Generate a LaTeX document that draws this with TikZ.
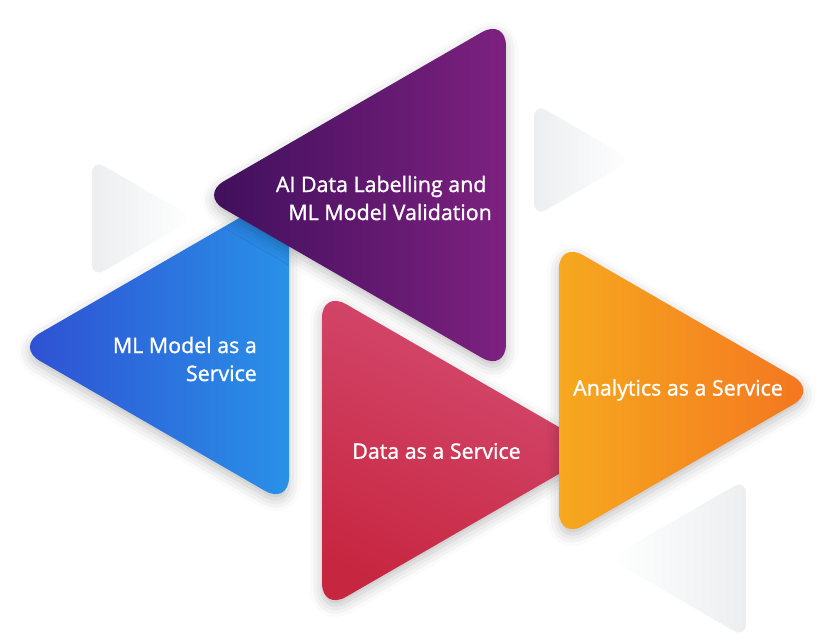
\documentclass[tikz,border=0pt]{standalone}
\usepackage{fontspec}
\setmainfont{Open Sans}
\newfontfamily\lblfont{Open Sans}[FakeBold=1.2]
\definecolor{plumdark}{HTML}{3E0F5B}
\definecolor{plumlight}{HTML}{7D2180}
\definecolor{bluedark}{HTML}{2F4ED2}
\definecolor{bluelight}{HTML}{2991E8}
\definecolor{rosetop}{HTML}{D54D73}
\definecolor{rosebot}{HTML}{C72640}
\definecolor{amberl}{HTML}{F6A81F}
\definecolor{amberr}{HTML}{F47420}
\definecolor{mist}{HTML}{ECEEF0}
\usetikzlibrary{shadows.blur}

\begin{document}
\begin{tikzpicture}[x=1pt, y=-1pt,
  tri/.style={rounded corners=27.7pt,
              blur shadow={shadow xshift=0pt, shadow yshift=-5pt, shadow blur radius=12pt, shadow opacity=25}},
  ghost/.style={rounded corners=13.9pt},
  lbl/.style={text=white, font=\lblfont\fontsize{21.4}{28}\selectfont, inner sep=0pt},
]
\useasboundingbox (0,0) rectangle (833,633);
% faded triangles behind
\shade[ghost, left color=mist, right color=white] (92,159.2) -- (194.8,218.5) -- (92,277.9) -- cycle;
\shade[ghost, left color=mist, right color=white] (534,103.1) -- (632.5,160) -- (534,216.9) -- cycle;
\shade[ghost, left color=white, right color=mist] (746,479.2) -- (746,637.9) -- (608.6,558.5) -- cycle;
% coloured triangles
\path[tri, left color=bluedark, right color=bluelight] (289,189.3) -- (289,504.7) -- (15.9,347) -- cycle;
\path[tri, left color=plumdark, right color=plumlight] (506,18.3) -- (506,371.7) -- (200,195) -- cycle;
\path[tri, top color=rosetop, bottom color=rosebot, shading angle=-25] (322,290.3) -- (599.5,450.5) -- (322,610.7) -- cycle;
\path[tri, left color=amberl, right color=amberr] (559,241.3) -- (817.4,390.5) -- (559,539.7) -- cycle;
% labels
\node[lbl, align=right, anchor=east] (labelling) at (492,198) {AI Data Labelling and\hspace*{0.25em}\\ML Model Validation};
\node[lbl, align=right, anchor=east] (mlmodel) at (257,359) {ML Model as a\\Service};
\node[lbl] (daas) at (436.5,451) {Data as a Service};
\node[lbl] (analytics) at (678,390) {Analytics as a Service};
\end{tikzpicture}
\end{document}
